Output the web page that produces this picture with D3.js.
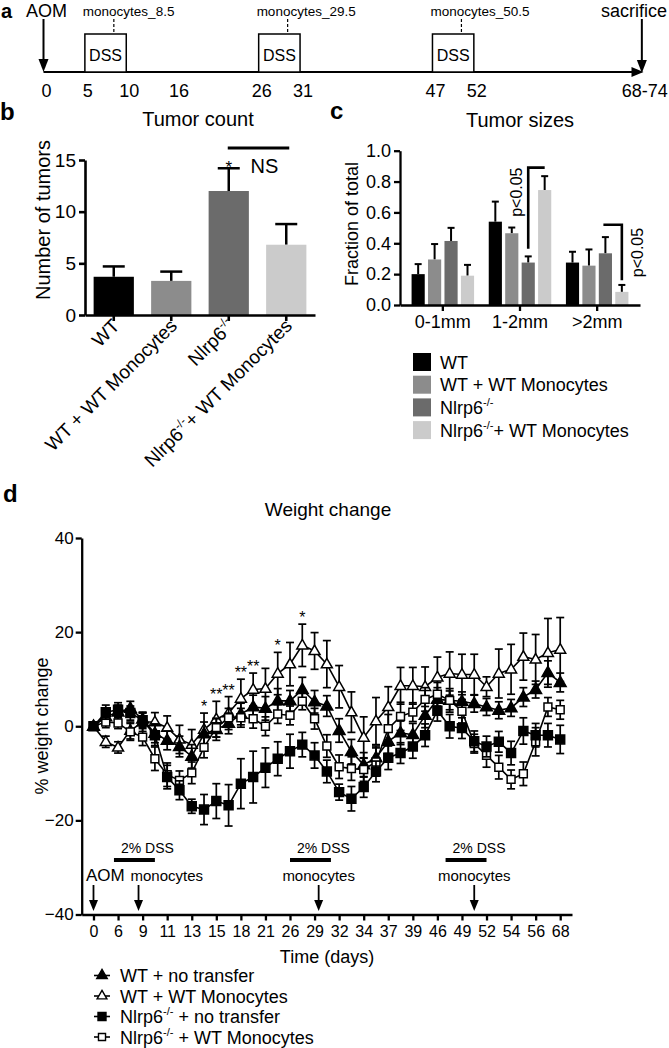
<!DOCTYPE html>
<html><head><meta charset="utf-8">
<script src="https://cdn.jsdelivr.net/npm/d3@7"></script>
<style>
body{margin:0;background:#fff;}
svg{display:block;font-family:"Liberation Sans",Arial,Helvetica,sans-serif;}
</style></head><body>
<script>
// ================= DATA =================
// Panel a : schematic timeline
const timelineTickDays = [0,5,10,16,26,31,47,52,72.3];
const timelineTickLabels = ["0","5","10","16","26","31","47","52","68-74"];
const dssPeriods = [[5,10],[26,31],[47,52]];
const monocyteDays = [8.5,29.5,50.5];
const monocyteLabels = ["monocytes_8.5","monocytes_29.5","monocytes_50.5"];
const sacrificeDay = 72.3;

// Panel b : tumor count
const groupsB = ["WT","WT + WT Monocytes","Nlrp6^-/-^","Nlrp6^-/-^+ WT Monocytes"];
const tumorCount = [3.7,3.3,12.0,6.8];
const tumorCountErr = [1.0,0.9,2.2,2.0];
const countTicks = [0,5,10,15];
const barColors = ["#000000","#8c8c8c","#6b6b6b","#cbcbcb"];

// Panel c : tumor sizes
const sizeGroups = ["0-1mm","1-2mm",">2mm"];
const sizeSeries = ["WT","WT + WT Monocytes","Nlrp6^-/-^","Nlrp6^-/-^+ WT Monocytes"];
const sizeWT        = [0.20,0.54,0.275];
const sizeWTMono    = [0.295,0.465,0.255];
const sizeNlrp6     = [0.415,0.275,0.335];
const sizeNlrp6Mono = [0.19,0.745,0.085];
const sizeWTErr        = [0.065,0.13,0.07];
const sizeWTMonoErr    = [0.10,0.037,0.105];
const sizeNlrp6Err     = [0.085,0.04,0.105];
const sizeNlrp6MonoErr = [0.07,0.09,0.045];
const sizeTicks = [0,0.2,0.4,0.6,0.8,1.0];

// Panel d : weight change (39 time points, labels on every other point)
const dayLabels = ["0","6","9","11","13","15","18","21","26","29","32","34","37","39","46","49","52","54","56","68"];
const wtNo   = [0,2.0,3.0,3.8,1.5,-1.5,-3.0,-4.3,-6.4,-1.6,-0.7,0.6,2.6,4.1,3.8,5.4,5.4,7.8,5.2,4.3,-0.9,-5.4,-8.2,-6.7,-3.2,-1.4,-1.8,2.3,5.7,5.5,5.3,4.8,4.1,3.4,3.9,6.2,7.8,11.4,9.3];
const wtNoErr= [0,1.2,1.5,1.5,1.5,2,2,2.2,2.5,2.5,2.3,2.2,2.3,2.5,2.5,2.6,2.2,2.6,2.4,2.2,2.5,2.6,2.6,2.5,2.6,2.5,2.4,2.6,2.5,2,2,1.8,1.8,1.8,1.8,2,1.8,2.5,2];
const wtMono = [0,-3.3,-4.5,-0.9,0.9,0.9,-0.3,-2.8,-3.9,-0.7,1.5,2.8,5.9,7.8,8.0,11.2,13.2,17.2,16.0,13.2,8.4,3.0,-2.4,1.1,4.1,8.6,8.6,8.4,10.4,11.2,11.0,11.0,8.4,11.2,12.1,14.8,14.2,15.6,16.3];
const wtMonoErr = [0,1.2,1.2,1.8,2,2,2.5,3,3.2,3.5,3.8,3.5,4.1,3.5,4.3,4.5,4.6,4.5,3.9,5.0,4.5,4.3,4.4,5.0,4.3,3.9,3.9,4.2,4.3,4.6,4.3,4.3,2.1,5.2,5.3,5.0,5.3,7.3,6.8];
const nlNo   = [0,3.0,3.5,2.8,1.3,-1.9,-10.8,-13.6,-17.0,-17.7,-15.9,-16.8,-12.2,-10.8,-8.8,-6.9,-5.3,-3.9,-6.2,-9.6,-14.0,-15.4,-12.9,-9.6,-6.7,-5.7,-4.3,-1.9,3.3,0,-0.4,-3.2,-4.3,-3.3,-5.7,-1.0,-1.9,-1.9,-2.8];
const nlNoErr= [0,1.5,1.5,1.5,1.5,2.2,2.5,2,1.5,3.2,3.7,4.4,5.3,5.5,4.2,3.6,3.6,2.6,2.7,2.4,1.7,2.6,2.2,2.2,2.5,2.2,2.5,2.4,2.2,2.5,2.2,2.2,2.2,2.2,2.5,2.8,2.5,2.5,3];
const nlMono = [0,0.9,0.7,-1.2,-2.3,-6.9,-10.3,-11.5,-9.9,-4.5,-0.3,1.8,1.8,1.6,0.0,2.6,2.3,5.3,1.6,-4.2,-8.6,-9.0,-9.2,-7.6,-0.5,2.1,3.0,5.7,6.8,5.5,3.2,-3.7,-6.2,-8.7,-11.3,-10.1,-3.3,4.1,3.5];
const nlMonoErr = [0,1.2,1.2,1.8,1.8,2.5,2.5,2.0,2.3,2.2,2,2,2,2,2,2,2,1.8,2.2,2.4,2.5,2.5,2.5,3,3,3,2,2.5,2.5,2.5,2.5,2,2.5,2.5,2,2.5,3,2,2];
const starIdx    = [9,10,11,12,13,15,17];
const starLabels = ["*","**","**","**","**","*","*"];
const weightTicks = [-40,-20,0,20,40];
const dssDaysD = [[5,10],[26,31],[47,52]];
const monoDaysD = [8.5,29.5,50.5];
const legendD = ["WT + no transfer","WT + WT Monocytes","Nlrp6^-/-^ + no transfer","Nlrp6^-/-^ + WT Monocytes"];

// ================= HELPERS =================
const svg = d3.select("body").append("svg").attr("width",669).attr("height",1048);

function rich(sel, str, fs){
  const parts = str.split("^");
  let prevSup = false;
  parts.forEach((p,k)=>{
    if(!p) return;
    const sup = k%2===1;
    const t = sel.append("tspan").text(p);
    if(sup){ t.attr("font-size", fs*0.62).attr("dy", -fs*0.42); prevSup = true; }
    else if(prevSup){ t.attr("dy", fs*0.42); prevSup = false; }
  });
  return sel;
}
function arrowDown(g, x, y1, y2, hw, hl, sw){
  g.append("line").attr("x1",x).attr("x2",x).attr("y1",y1).attr("y2",y2-hl+1)
    .attr("stroke","#000").attr("stroke-width",sw);
  g.append("path").attr("d",`M${x-hw},${y2-hl}L${x+hw},${y2-hl}L${x},${y2}Z`).attr("fill","#000");
}
function styleAxis(g, fs, sw){
  g.attr("font-family",null).attr("font-size",fs);
  g.select(".domain").attr("stroke-width",sw);
  g.selectAll(".tick line").attr("stroke-width",sw);
  g.selectAll(".tick text").attr("fill","#000");
}

// ================= PANEL A =================
const gA = svg.append("g");
const xA = d3.scaleLinear().domain([0,72.5]).range([43.5,643.5]);
const lineY = 72;
gA.append("text").attr("x",1).attr("y",18).attr("font-size",20).attr("font-weight","bold").text("a");
gA.append("line").attr("x1",xA(0)).attr("x2",xA(72.5)-6).attr("y1",lineY).attr("y2",lineY).attr("stroke","#000").attr("stroke-width",2);
gA.append("path").attr("d",`M${xA(72.5)-12},${lineY-5}L${xA(72.5)},${lineY}L${xA(72.5)-12},${lineY+5}Z`).attr("fill","#000");
gA.selectAll("rect.dss").data(dssPeriods).join("rect")
  .attr("x",d=>xA(d[0])).attr("width",d=>xA(d[1])-xA(d[0]))
  .attr("y",34).attr("height",lineY-34).attr("fill","#fff").attr("stroke","#000").attr("stroke-width",1.5);
gA.selectAll("text.dss").data(dssPeriods).join("text")
  .attr("x",d=>(xA(d[0])+xA(d[1]))/2).attr("y",61).attr("text-anchor","middle").attr("font-size",16).text("DSS");
gA.selectAll("line.mono").data(monocyteDays).join("line")
  .attr("x1",d=>xA(d)).attr("x2",d=>xA(d)).attr("y1",19).attr("y2",34)
  .attr("stroke","#000").attr("stroke-width",1.2).attr("stroke-dasharray","3,2");
gA.selectAll("text.mono").data(monocyteDays).join("text")
  .attr("x",d=>xA(d)-31).attr("y",16).attr("font-size",13.5).text((d,i)=>monocyteLabels[i]);
arrowDown(gA, xA(0), 19, lineY, 5, 13, 2);
arrowDown(gA, xA(sacrificeDay), 19, lineY+1, 5, 13, 2);
gA.append("text").attr("x",26).attr("y",16.5).attr("font-size",18).text("AOM");
gA.append("text").attr("x",667).attr("y",16.5).attr("font-size",18).attr("text-anchor","end").text("sacrifice");
gA.selectAll("text.tick").data(timelineTickDays).join("text")
  .attr("x",d=>xA(d)+3).attr("y",97).attr("text-anchor","middle").attr("font-size",18)
  .text((d,i)=>timelineTickLabels[i]);

// ================= PANEL B =================
const gB = svg.append("g");
const yB = d3.scaleLinear().domain([0,15]).range([315,160]);
const xB = d3.scaleBand().domain(groupsB).range([85,315]).paddingInner(0.3).paddingOuter(0.15);
gB.append("text").attr("x",0).attr("y",120).attr("font-size",24).attr("font-weight","bold").text("b");
gB.append("text").attr("x",198).attr("y",126).attr("text-anchor","middle").attr("font-size",20).text("Tumor count");
gB.append("text").attr("transform","translate(50,220) rotate(-90)").attr("text-anchor","middle").attr("font-size",20).text("Number of tumors");
// error bars (upper only)
gB.selectAll("line.eb").data(groupsB).join("line")
  .attr("x1",d=>xB(d)+xB.bandwidth()/2).attr("x2",d=>xB(d)+xB.bandwidth()/2)
  .attr("y1",(d,i)=>yB(tumorCount[i])).attr("y2",(d,i)=>yB(tumorCount[i]+tumorCountErr[i]))
  .attr("stroke","#000").attr("stroke-width",2.5);
gB.selectAll("line.cap").data(groupsB).join("line")
  .attr("x1",d=>xB(d)+xB.bandwidth()/2-11).attr("x2",d=>xB(d)+xB.bandwidth()/2+11)
  .attr("y1",(d,i)=>yB(tumorCount[i]+tumorCountErr[i])).attr("y2",(d,i)=>yB(tumorCount[i]+tumorCountErr[i]))
  .attr("stroke","#000").attr("stroke-width",2.5);
gB.selectAll("rect.bar").data(groupsB).join("rect")
  .attr("x",d=>xB(d)).attr("width",xB.bandwidth())
  .attr("y",(d,i)=>yB(tumorCount[i])).attr("height",(d,i)=>yB(0)-yB(tumorCount[i]))
  .attr("fill",(d,i)=>barColors[i]);
const axBy = gB.append("g").attr("transform","translate(85,0)")
  .call(d3.axisLeft(yB).tickValues(countTicks).tickSize(6).tickSizeOuter(0).tickPadding(3));
styleAxis(axBy,19,2.6);
const axBx = gB.append("g").attr("transform","translate(0,315)")
  .call(d3.axisBottom(xB).tickSize(6).tickSizeOuter(0).tickFormat(""));
styleAxis(axBx,19,2.6);
groupsB.forEach((g,i)=>{
  const t = gB.append("text")
    .attr("transform",`translate(${xB(g)+xB.bandwidth()/2+7},${327}) rotate(-45)`)
    .attr("text-anchor","end").attr("font-size",19);
  rich(t,g,19);
});
// significance
const nlX = xB(groupsB[2])+xB.bandwidth()/2, nlmX = xB(groupsB[3])+xB.bandwidth()/2;
gB.append("text").attr("x",nlX).attr("y",yB(tumorCount[2]+tumorCountErr[2])+5).attr("text-anchor","middle").attr("font-size",17).text("*");
gB.append("line").attr("x1",nlX-1).attr("x2",nlmX+3).attr("y1",148).attr("y2",148).attr("stroke","#000").attr("stroke-width",3);
gB.append("text").attr("x",(nlX+nlmX)/2+7).attr("y",173).attr("text-anchor","middle").attr("font-size",20).text("NS");

// ================= PANEL C =================
const gC = svg.append("g");
const yC = d3.scaleLinear().domain([0,1]).range([305,150.7]);
const x0 = d3.scaleBand().domain(sizeGroups).range([400,640]).paddingInner(0.19).paddingOuter(0.15);
const x1 = d3.scaleBand().domain(sizeSeries).range([0,x0.bandwidth()]).paddingInner(0.2);
const sizeVals = [sizeWT,sizeWTMono,sizeNlrp6,sizeNlrp6Mono];
const sizeErrs = [sizeWTErr,sizeWTMonoErr,sizeNlrp6Err,sizeNlrp6MonoErr];
const cData = [];
sizeGroups.forEach((g,gi)=>sizeSeries.forEach((s,si)=>cData.push({g,s,si,v:sizeVals[si][gi],e:sizeErrs[si][gi]})));
const cx = d=>x0(d.g)+x1(d.s)+x1.bandwidth()/2;
gC.append("text").attr("x",330).attr("y",119).attr("font-size",24).attr("font-weight","bold").text("c");
gC.append("text").attr("x",520).attr("y",127).attr("text-anchor","middle").attr("font-size",20).text("Tumor sizes");
gC.append("text").attr("transform","translate(358,224) rotate(-90)").attr("text-anchor","middle").attr("font-size",18).text("Fraction of total");
gC.selectAll("line.eb").data(cData).join("line")
  .attr("x1",cx).attr("x2",cx).attr("y1",d=>yC(d.v)).attr("y2",d=>yC(d.v+d.e))
  .attr("stroke","#000").attr("stroke-width",2);
gC.selectAll("line.cap").data(cData).join("line")
  .attr("x1",d=>cx(d)-3.5).attr("x2",d=>cx(d)+3.5).attr("y1",d=>yC(d.v+d.e)).attr("y2",d=>yC(d.v+d.e))
  .attr("stroke","#000").attr("stroke-width",2);
gC.selectAll("rect.bar").data(cData).join("rect")
  .attr("x",d=>x0(d.g)+x1(d.s)).attr("width",x1.bandwidth())
  .attr("y",d=>yC(d.v)).attr("height",d=>yC(0)-yC(d.v)).attr("fill",d=>barColors[d.si]);
const axCy = gC.append("g").attr("transform","translate(400,0)")
  .call(d3.axisLeft(yC).tickValues(sizeTicks).tickSize(6).tickSizeOuter(0).tickPadding(3).tickFormat(d3.format(".1f")));
styleAxis(axCy,18,2.3);
const axCx = gC.append("g").attr("transform","translate(0,305)")
  .call(d3.axisBottom(x0).tickSize(6).tickSizeOuter(0).tickPadding(4));
styleAxis(axCx,18,2.3);
// brackets
{
  const b1 = cData.find(d=>d.g==="1-2mm"&&d.si===2), b2 = cData.find(d=>d.g==="1-2mm"&&d.si===3);
  const yTop = yC(0.89), yBot = yC(b1.v+b1.e+0.05);
  gC.append("path").attr("d",`M${cx(b1)},${yBot}V${yTop}H${cx(b2)}`).attr("fill","none").attr("stroke","#000").attr("stroke-width",2.6);
  gC.append("text").attr("transform",`translate(${cx(b1)-6},${(yTop+yTop+45)/2+2}) rotate(-90)`).attr("text-anchor","middle").attr("font-size",16).text("p<0.05");
  const c1 = cData.find(d=>d.g===">2mm"&&d.si===2), c2 = cData.find(d=>d.g===">2mm"&&d.si===3);
  const yT2 = yC(0.52), yB2 = yC(c2.v+c2.e+0.03);
  gC.append("path").attr("d",`M${cx(c1)-2},${yT2}H${cx(c2)}V${yB2}`).attr("fill","none").attr("stroke","#000").attr("stroke-width",2.6);
  gC.append("text").attr("transform",`translate(${cx(c2)+21},${(yT2+yB2)/2}) rotate(-90)`).attr("text-anchor","middle").attr("font-size",16).text("p<0.05");
}
// legend c
sizeSeries.forEach((s,i)=>{
  const y = 362 + i*22.7;
  gC.append("rect").attr("x",413).attr("y",y-9).attr("width",18).attr("height",18).attr("fill",barColors[i]);
  const t = gC.append("text").attr("x",440).attr("y",y+6.5).attr("font-size",18);
  rich(t,s,18);
});

// ================= PANEL D =================
const gD = svg.append("g");
const xD = d3.scalePoint().domain(d3.range(wtNo.length)).range([81.7,572]).padding(0.96);
const yD = d3.scaleLinear().domain([-40,40]).range([914.5,538]);
gD.append("text").attr("x",3).attr("y",502).attr("font-size",24).attr("font-weight","bold").text("d");
gD.append("text").attr("x",328).attr("y",516).attr("text-anchor","middle").attr("font-size",19).text("Weight change");
gD.append("text").attr("transform","translate(48,726) rotate(-90)").attr("text-anchor","middle").attr("font-size",18).text("% weight change");
gD.append("text").attr("x",327).attr("y",963).attr("text-anchor","middle").attr("font-size",18).text("Time (days)");
const evenIdx = d3.range(0,wtNo.length,2);
const axDy = gD.append("g").attr("transform","translate(81.7,0)")
  .call(d3.axisLeft(yD).tickValues(weightTicks).tickSize(6).tickSizeOuter(0).tickPadding(2));
styleAxis(axDy,17,2.3);
const axDx = gD.append("g").attr("transform","translate(0,914.5)")
  .call(d3.axisBottom(xD).tickValues(evenIdx).tickFormat((d)=>dayLabels[d/2]).tickSize(6).tickSizeOuter(0).tickPadding(5));
styleAxis(axDx,16,2.3);

// treatment annotations
const dayToX = d3.scaleLinear().domain(dayLabels.map(Number)).range(evenIdx.map(i=>xD(i)));
dssDaysD.forEach(p=>{
  gD.append("line").attr("x1",dayToX(p[0])).attr("x2",dayToX(p[1])).attr("y1",860).attr("y2",860).attr("stroke","#000").attr("stroke-width",4);
  gD.append("text").attr("x",dayToX(p[0])+7).attr("y",853).attr("font-size",14).text("2% DSS");
});
arrowDown(gD, dayToX(0), 885, 911, 4.5, 11, 1.8);
gD.append("text").attr("x",86).attr("y",881).attr("font-size",17).text("AOM");
monoDaysD.forEach((m,k)=>{
  arrowDown(gD, dayToX(m), 885, 911, 4.5, 11, 1.8);
  gD.append("text").attr("x",k===0?dayToX(m)-8:dayToX(m)).attr("y",881)
    .attr("text-anchor",k===0?"start":"middle").attr("font-size",15).text("monocytes");
});

const seriesD = [
  {name:legendD[0], vals:wtNo,   err:wtNoErr,   shape:d3.symbolTriangle, fill:"#000", size:60},
  {name:legendD[1], vals:wtMono, err:wtMonoErr, shape:d3.symbolTriangle, fill:"#fff", size:52},
  {name:legendD[2], vals:nlNo,   err:nlNoErr,   shape:d3.symbolSquare,   fill:"#000", size:80},
  {name:legendD[3], vals:nlMono, err:nlMonoErr, shape:d3.symbolSquare,   fill:"#fff", size:62}
];
const lineGen = d3.line().x((d,i)=>xD(i)).y(d=>yD(d));
const drawOrder = [1,0,3,2];
drawOrder.forEach(k=>{
  const s = seriesD[k];
  const g = gD.append("g");
  const pts = s.vals.map((v,i)=>({i,v,e:s.err[i]})).filter(d=>d.e>0);
  g.selectAll("line.eb").data(pts).join("line")
    .attr("x1",d=>xD(d.i)).attr("x2",d=>xD(d.i)).attr("y1",d=>yD(d.v-d.e)).attr("y2",d=>yD(d.v+d.e))
    .attr("stroke","#000").attr("stroke-width",1.7);
  [1,-1].forEach(sg=>{
    g.selectAll("line.cap"+sg).data(pts).join("line")
      .attr("x1",d=>xD(d.i)-4).attr("x2",d=>xD(d.i)+4)
      .attr("y1",d=>yD(d.v+sg*d.e)).attr("y2",d=>yD(d.v+sg*d.e))
      .attr("stroke","#000").attr("stroke-width",1.7);
  });
  g.append("path").datum(s.vals).attr("d",lineGen).attr("fill","none").attr("stroke","#000").attr("stroke-width",1.6);
  g.selectAll("path.mk").data(s.vals).join("path")
    .attr("d",d3.symbol(s.shape,s.size))
    .attr("transform",(d,i)=>`translate(${xD(i)},${yD(d)+(s.shape===d3.symbolTriangle?0.5:0)})`)
    .attr("fill",s.fill).attr("stroke","#000").attr("stroke-width",1.5);
});
// significance stars
gD.selectAll("text.star").data(starIdx).join("text")
  .attr("x",d=>xD(d)).attr("y",d=>yD(wtMono[d]+wtMonoErr[d])-1)
  .attr("text-anchor","middle").attr("font-size",16).text((d,k)=>starLabels[k]);

// legend d
seriesD.forEach((s,i)=>{
  const y = 975.5 + i*20.5;
  gD.append("line").attr("x1",94).attr("x2",110).attr("y1",y).attr("y2",y).attr("stroke","#000").attr("stroke-width",1.6);
  gD.append("path").attr("d",d3.symbol(s.shape,s.size*0.8)).attr("transform",`translate(102,${y})`)
    .attr("fill",s.fill).attr("stroke","#000").attr("stroke-width",1.4);
  const t = gD.append("text").attr("x",120).attr("y",y+6.5).attr("font-size",18);
  rich(t,s.name,18);
});
</script>
</body></html>
